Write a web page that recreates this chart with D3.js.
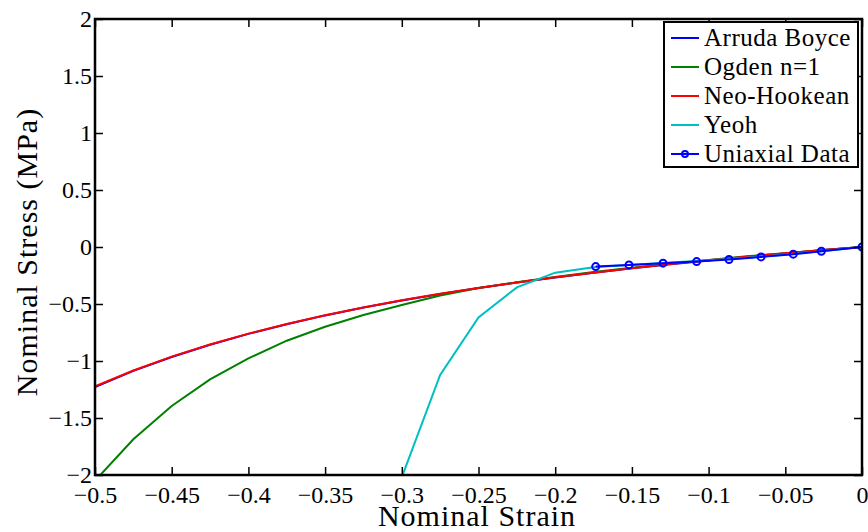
<!DOCTYPE html>
<html>
<head>
<meta charset="utf-8">
<script src="https://cdn.jsdelivr.net/npm/d3@7"></script>
<style>
  body { margin: 0; background: #fff; }
</style>
</head>
<body>
<svg id="chart" width="868" height="532"></svg>
<script>
// strain steps used by the model curves
var strain = [-0.5, -0.475, -0.45, -0.425, -0.4, -0.375, -0.35, -0.325, -0.3, -0.275, -0.25,
  -0.225, -0.2, -0.175, -0.15, -0.125, -0.1, -0.075, -0.05, -0.025, 0];

var arrudaBoyce = [-1.228, -1.087, -0.965, -0.857, -0.762, -0.677, -0.600, -0.531, -0.469, -0.412,
  -0.360, -0.312, -0.267, -0.226, -0.187, -0.151, -0.118, -0.086, -0.056, -0.027, 0];
var ogden = [-2.05, -1.687, -1.395, -1.161, -0.977, -0.822, -0.699, -0.596, -0.508, -0.425,
  -0.360, -0.310, -0.263, -0.220, -0.181, -0.146, -0.113, -0.082, -0.054, -0.026, 0];
var neoHookean = [-1.222, -1.083, -0.962, -0.855, -0.760, -0.675, -0.599, -0.530, -0.468, -0.411,
  -0.359, -0.311, -0.266, -0.225, -0.186, -0.150, -0.117, -0.085, -0.055, -0.027, 0];

var yeohStrain = [-0.3, -0.275, -0.25, -0.225, -0.2, -0.175, -0.15, -0.125, -0.1, -0.075, -0.05, -0.025, 0];
var yeoh = [-2.02, -1.123, -0.617, -0.354, -0.225, -0.178, -0.155, -0.135, -0.117, -0.094, -0.067, -0.036, 0];

var dataStrain = [-0.1736, -0.1519, -0.1297, -0.1078, -0.0867, -0.0658, -0.0448, -0.0265, 0];
var dataStress = [-0.172, -0.157, -0.142, -0.128, -0.110, -0.087, -0.063, -0.037, 0];

var xTicks = [-0.5, -0.45, -0.4, -0.35, -0.3, -0.25, -0.2, -0.15, -0.1, -0.05, 0];
var yTicks = [-2, -1.5, -1, -0.5, 0, 0.5, 1, 1.5, 2];

var series = [
  {name: "Arruda Boyce", color: "#0000ff", x: strain, y: arrudaBoyce},
  {name: "Ogden n=1", color: "#008000", x: strain, y: ogden},
  {name: "Neo-Hookean", color: "#ff0000", x: strain, y: neoHookean},
  {name: "Yeoh", color: "#00bfbf", x: yeohStrain, y: yeoh},
  {name: "Uniaxial Data", color: "#0000ff", x: dataStrain, y: dataStress, marker: true}
];

var FONT = "Liberation Serif";
var LEFT = 95, TOP = 19, RIGHT = 862, BOTTOM = 475;
var svg = d3.select("#chart");

var xScale = d3.scaleLinear().domain([-0.5, 0]).range([LEFT, RIGHT]);
var yScale = d3.scaleLinear().domain([-2, 2]).range([BOTTOM, TOP]);
var fmt = d3.format("");

svg.append("clipPath").attr("id", "plotclip")
  .append("rect").attr("x", LEFT).attr("y", TOP)
  .attr("width", RIGHT - LEFT).attr("height", BOTTOM - TOP);

var line = d3.line()
  .x(function(d){ return xScale(d[0]); })
  .y(function(d){ return yScale(d[1]); });

var plot = svg.append("g").attr("clip-path", "url(#plotclip)");

series.forEach(function(s){
  var pts = s.x.map(function(v, i){ return [v, s.y[i]]; });
  plot.append("path")
    .attr("d", line(pts))
    .attr("fill", "none")
    .attr("stroke", s.color)
    .attr("stroke-width", 2);
  if (s.marker) {
    plot.selectAll(null).data(pts).enter().append("circle")
      .attr("cx", function(d){ return xScale(d[0]); })
      .attr("cy", function(d){ return yScale(d[1]); })
      .attr("r", 3.5)
      .attr("fill", "none")
      .attr("stroke", s.color)
      .attr("stroke-width", 2);
  }
});

// axes, ticks pointing inward
var styleAxis = function(g){
  g.attr("font-family", null).attr("font-size", null);
  g.select(".domain").remove();
  g.selectAll(".tick line").attr("stroke", "#000").attr("stroke-width", 1.5);
  g.selectAll(".tick text").style("font-family", FONT).style("font-size", "24px").attr("fill", "#000");
};

svg.append("g").attr("transform", "translate(0," + BOTTOM + ")")
  .call(d3.axisBottom(xScale).tickValues(xTicks).tickFormat(fmt).tickSize(-8).tickPadding(11))
  .call(styleAxis);
svg.append("g").attr("transform", "translate(0," + TOP + ")")
  .call(d3.axisTop(xScale).tickValues(xTicks).tickFormat("").tickSize(-8))
  .call(styleAxis);
svg.append("g").attr("transform", "translate(" + LEFT + ",0)")
  .call(d3.axisLeft(yScale).tickValues(yTicks).tickFormat(fmt).tickSize(-8).tickPadding(3))
  .call(styleAxis);
svg.append("g").attr("transform", "translate(" + RIGHT + ",0)")
  .call(d3.axisRight(yScale).tickValues(yTicks).tickFormat("").tickSize(-8))
  .call(styleAxis);

svg.append("rect")
  .attr("x", LEFT).attr("y", TOP)
  .attr("width", RIGHT - LEFT).attr("height", BOTTOM - TOP)
  .attr("fill", "none").attr("stroke", "#000").attr("stroke-width", 2.5);

svg.append("text")
  .attr("x", 477).attr("y", 526)
  .attr("text-anchor", "middle")
  .style("font-family", FONT).style("font-size", "30px").style("letter-spacing", "1px")
  .text("Nominal Strain");

svg.append("text")
  .attr("transform", "translate(37,252) rotate(-90)")
  .attr("text-anchor", "middle")
  .style("font-family", FONT).style("font-size", "30px").style("letter-spacing", "1px")
  .text("Nominal Stress (MPa)");

// legend
var legend = svg.append("g");
legend.append("rect")
  .attr("x", 664).attr("y", 22).attr("width", 194).attr("height", 145)
  .attr("fill", "#fff").attr("stroke", "#000").attr("stroke-width", 2);

series.forEach(function(s, i){
  var ly = 38 + i * 29;
  legend.append("line")
    .attr("x1", 671).attr("x2", 699).attr("y1", ly).attr("y2", ly)
    .attr("stroke", s.color).attr("stroke-width", 2);
  if (s.marker) {
    legend.append("circle").attr("cx", 685).attr("cy", ly).attr("r", 3)
      .attr("fill", "none").attr("stroke", s.color).attr("stroke-width", 2);
  }
  legend.append("text")
    .attr("x", 704).attr("y", ly + 8)
    .style("font-family", FONT).style("font-size", "25px").style("letter-spacing", "0.5px")
    .text(s.name);
});
</script>
</body>
</html>
